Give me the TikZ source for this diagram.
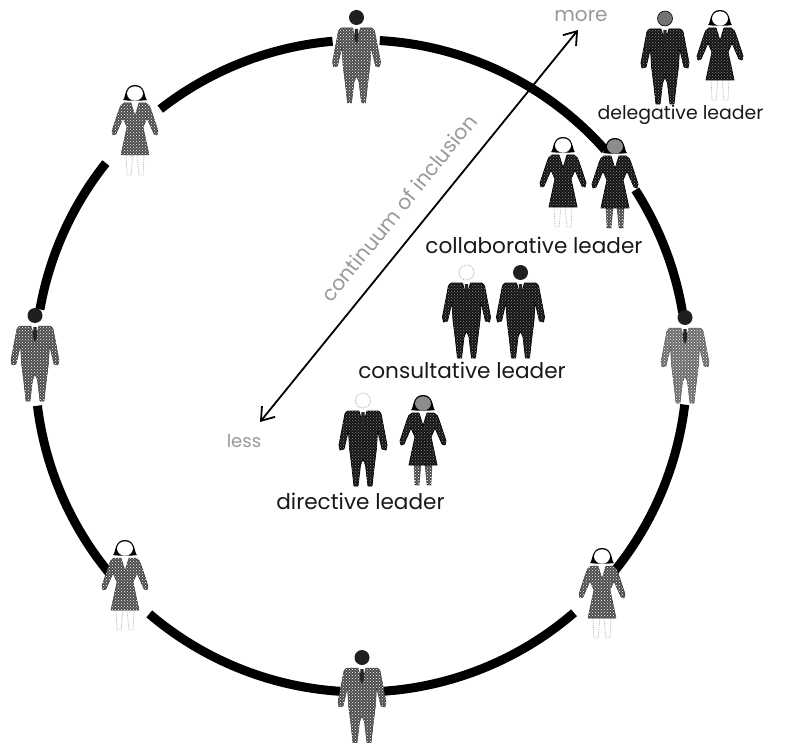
\documentclass[tikz,border=0pt]{standalone}
\usepackage{fontspec}
\setmainfont{Poppins}
\usetikzlibrary{patterns,arrows.meta}
\definecolor{dk}{gray}{0.08}
\definecolor{md}{gray}{0.30}
\definecolor{lt}{gray}{0.42}
\tikzset{
  ringarc/.style={line width=9pt,black},
  rolelabel/.style={font=\fontsize{21.6}{24}\selectfont,text=black!90,inner sep=0pt},
  faintlabel/.style={font=\fontsize{18}{20}\selectfont,text=black!40,inner sep=0pt},
  axisarrow/.style={line width=1.8pt,black,{Straight Barb[length=12pt,width=17pt]}-{Straight Barb[length=12pt,width=17pt]}},
  dkbody/.style={fill=dk,draw=black,line width=.8pt,postaction={pattern=crosshatch dots,pattern color=white!55!black}},
  mdbody/.style={fill=md,draw=black!80,line width=.5pt,postaction={pattern=crosshatch dots,pattern color=white}},
  ltbody/.style={fill=lt,draw=black!70,line width=.5pt,postaction={pattern=crosshatch dots,pattern color=white}},
  legsfaint/.style={draw=black!30,densely dotted,line width=.8pt},
  legsmott/.style={fill=md,draw=black,line width=.6pt,densely dotted,postaction={pattern=crosshatch dots,pattern color=white}},
  headdark/.style={fill=black!88},
  headgray/.style={fill=black!55,draw=black,line width=.6pt},
  headfaint/.style={draw=black!35,densely dotted,line width=.8pt},
}
% man: x, y of head top, body style, head style
\newcommand{\figman}[4]{%
  \begin{scope}[shift={(#1,#2)}]
    \path[#4] (0,7.5) circle[radius=7.5];
    \path[#3,line join=round]
      (-15,18) -- (-4,18) -- (0,32) -- (4,18) -- (15,18)
      .. controls (18,19) and (19,23) .. (19,26)
      -- (24,52) -- (23,57) -- (19,56) -- (14.5,37) -- (13.5,55) -- (11,75) -- (9,93) -- (5,93) -- (2.5,72) -- (0,66)
      -- (-2.5,72) -- (-5,93) -- (-9,93) -- (-11,75) -- (-13.5,55) -- (-14.5,37) -- (-19,56) -- (-23,57) -- (-24,52) -- (-19,26)
      .. controls (-19,23) and (-18,19) .. (-15,18) -- cycle;
    \fill[black!85] (-1.6,19) -- (1.6,19) -- (2,29) -- (0,34) -- (-2,29) -- cycle;
  \end{scope}}
% woman: x, y of head top, body style, face colour, hair colour, legs style
\newcommand{\figwoman}[6]{%
  \begin{scope}[shift={(#1,#2)}]
    \fill[#5] (-12,15) .. controls (-9,13) and (-11,0) .. (0,0) .. controls (11,0) and (9,13) .. (12,15)
      .. controls (7,16) and (-7,16) .. (-12,15) -- cycle;
    \fill[#4] (0,8.5) ellipse[x radius=8,y radius=7.2];
    \path[#6] (-9,70) -- (-8,90) -- (-4,90) -- (-2,70) -- cycle (2,70) -- (4,90) -- (8,90) -- (9,70) -- cycle;
    \path[#3,line join=round]
      (-11,18) -- (-4,18) -- (0,31) -- (4,18) -- (11,18)
      .. controls (14,19) and (15,22) .. (16,25)
      -- (23,46) -- (22,50) -- (19,49) -- (12,33) -- (8,42) -- (14,70) -- (-14,70) -- (-8,42) -- (-12,33) -- (-19,49) -- (-22,50) -- (-23,46) -- (-16,25)
      .. controls (-15,22) and (-14,19) .. (-11,18) -- cycle;
  \end{scope}}
\begin{document}
\begin{tikzpicture}[x=1pt,y=-1pt]
\useasboundingbox (0,0) rectangle (797,743);
\coordinate (ringc) at (361,366);
% ring segments
\foreach \a/\b in {86.7/41.5, 32.7/9.4, -6.8/-40.8, -49.2/-86, -93.7/-130.5, -140/-173, 170/141.5, 128/95}{
  \draw[ringarc] ([shift={(\a:326 and -326)}]ringc) arc[start angle=-\a,end angle=-\b,radius=326];
}
% axis
\coordinate (lessend) at (260,422);
\coordinate (moreend) at (578,30);
\draw[axisarrow] (lessend) -- (moreend);
\node[faintlabel,font=\fontsize{20}{22}\selectfont] (morelabel) at (581,16) {more};
\node[faintlabel] (lesslabel) at (244,441) {less};
\node[faintlabel,rotate=51,font=\fontsize{20.5}{22}\selectfont] (axislabel) at (399,208) {continuum of inclusion};
% ring figures
\figman{356.5}{10}{mdbody}{headdark}
\figwoman{135}{85}{mdbody}{white}{black}{legsfaint}
\figman{35}{308}{mdbody}{headdark}
\figman{685}{310}{ltbody}{headdark}
\figwoman{125}{540}{mdbody}{white}{black}{legsfaint}
\figwoman{602}{548}{mdbody}{white}{black}{legsfaint}
\figman{362}{650}{mdbody}{headdark}
% leaders
\figman{665}{11}{dkbody}{headgray}
\figwoman{720}{10}{dkbody}{white}{black}{legsfaint}
\figwoman{563}{137}{dkbody}{white}{black}{legsfaint}
\figwoman{615}{138}{dkbody}{black!45}{black}{legsmott}
\figman{466.5}{265}{dkbody}{headfaint}
\figman{520.5}{265}{dkbody}{headdark}
\figman{363}{393}{dkbody}{headfaint}
\figwoman{423}{395}{dkbody}{black!45}{black}{legsmott}
\node[rolelabel,font=\fontsize{18.9}{21}\selectfont] (delegative) at (680.5,115) {delegative leader};
\node[rolelabel] (collaborative) at (534,245) {collaborative leader};
\node[rolelabel] (consultative) at (462,370) {consultative leader};
\node[rolelabel] (directive) at (360.5,501) {directive leader};
\end{tikzpicture}
\end{document}
